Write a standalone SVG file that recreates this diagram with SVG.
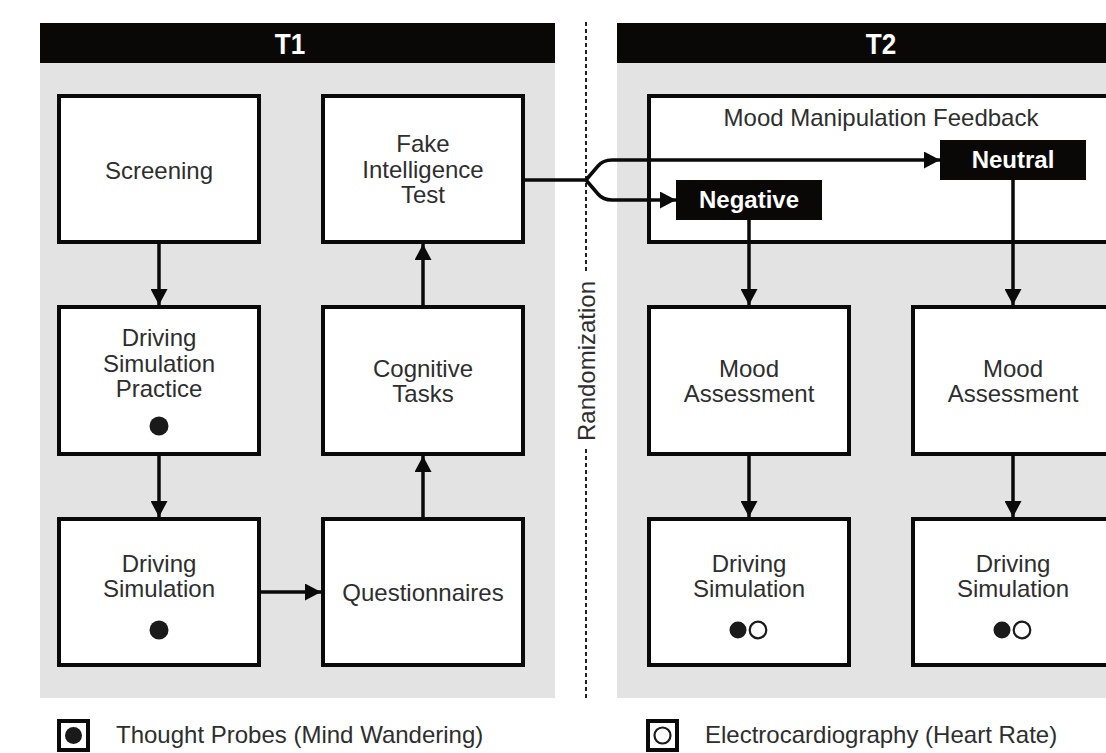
<svg xmlns="http://www.w3.org/2000/svg" width="1106" height="753" viewBox="0 0 1106 753">
  <defs>
    <marker id="ah" markerUnits="userSpaceOnUse" markerWidth="17" markerHeight="17" refX="16" refY="8.5" orient="auto">
      <path d="M0,0 L16,8.5 L0,17 z" fill="#0a0a0a"/>
    </marker>
    <style>
      .panel { fill: #e3e3e3; }
      .hdr { fill: #0a0806; }
      .hdrtxt { font-family: "Liberation Sans", Arial, Helvetica, sans-serif; font-weight: bold; font-size: 29px; fill: #ffffff; text-anchor: middle; }
      .box { fill: #ffffff; stroke: #0a0a0a; stroke-width: 4; }
      .lbl { font-family: "Liberation Sans", Arial, Helvetica, sans-serif; font-size: 24px; fill: #2e2e2e; text-anchor: middle; }
      .tag { fill: #0a0806; }
      .tagtxt { font-family: "Liberation Sans", Arial, Helvetica, sans-serif; font-weight: bold; font-size: 24px; fill: #ffffff; text-anchor: middle; }
      .conn { fill: none; stroke: #0a0a0a; stroke-width: 3.5; }
      .dash { fill: none; stroke: #222; stroke-width: 2; stroke-dasharray: 4 3; }
      .dotf { fill: #1a1a1a; }
      .doto { fill: #ffffff; stroke: #1a1a1a; stroke-width: 2.2; }
      .leg { font-family: "Liberation Sans", Arial, Helvetica, sans-serif; font-size: 24px; fill: #2e2e2e; }
    </style>
  </defs>

  <!-- panels -->
  <g id="panel-t1">
    <rect class="panel" x="40" y="63" width="515" height="635"/>
    <rect class="hdr" x="40" y="23" width="515" height="40"/>
    <text class="hdrtxt" transform="translate(290,54) scale(0.9,1)">T1</text>
  </g>
  <g id="panel-t2">
    <rect class="panel" x="617" y="63" width="489" height="635"/>
    <rect class="hdr" x="617" y="23" width="489" height="40"/>
    <text class="hdrtxt" transform="translate(881,54) scale(0.9,1)">T2</text>
  </g>

  <!-- randomization divider -->
  <g id="randomization">
    <line class="dash" x1="586" y1="22" x2="586" y2="274"/>
    <line class="dash" x1="586" y1="449" x2="586" y2="700"/>
    <text class="lbl" transform="translate(595,361) rotate(-90)">Randomization</text>
  </g>

  <!-- T1 nodes -->
  <g id="screening">
    <rect class="box" x="59" y="96" width="200" height="146"/>
    <text class="lbl" x="159" y="179">Screening</text>
  </g>
  <g id="fake-intelligence-test">
    <rect class="box" x="323" y="96" width="200" height="146"/>
    <text class="lbl" x="423" y="152">Fake</text>
    <text class="lbl" x="423" y="178">Intelligence</text>
    <text class="lbl" x="423" y="203">Test</text>
  </g>
  <g id="driving-simulation-practice">
    <rect class="box" x="59" y="307" width="200" height="147"/>
    <text class="lbl" x="159" y="346">Driving</text>
    <text class="lbl" x="159" y="372">Simulation</text>
    <text class="lbl" x="159" y="397">Practice</text>
    <circle class="dotf" cx="159" cy="426" r="9.5"/>
  </g>
  <g id="cognitive-tasks">
    <rect class="box" x="323" y="307" width="200" height="147"/>
    <text class="lbl" x="423" y="377">Cognitive</text>
    <text class="lbl" x="423" y="402">Tasks</text>
  </g>
  <g id="driving-simulation-t1">
    <rect class="box" x="59" y="519" width="200" height="146"/>
    <text class="lbl" x="159" y="572">Driving</text>
    <text class="lbl" x="159" y="597">Simulation</text>
    <circle class="dotf" cx="159" cy="630" r="9.5"/>
  </g>
  <g id="questionnaires">
    <rect class="box" x="323" y="519" width="200" height="146"/>
    <text class="lbl" x="423" y="601">Questionnaires</text>
  </g>

  <!-- T2 nodes -->
  <g id="mood-manipulation-feedback">
    <rect class="box" x="649" y="96" width="500" height="146"/>
    <text class="lbl" x="881" y="126">Mood Manipulation Feedback</text>
  </g>
  <g id="negative">
    <rect class="tag" x="676" y="180" width="146" height="40"/>
    <text class="tagtxt" x="749" y="208">Negative</text>
  </g>
  <g id="neutral">
    <rect class="tag" x="940" y="140" width="146" height="40"/>
    <text class="tagtxt" x="1013" y="168">Neutral</text>
  </g>
  <g id="mood-assessment-negative">
    <rect class="box" x="649" y="307" width="200" height="147"/>
    <text class="lbl" x="749" y="377">Mood</text>
    <text class="lbl" x="749" y="402">Assessment</text>
  </g>
  <g id="mood-assessment-neutral">
    <rect class="box" x="913" y="307" width="200" height="147"/>
    <text class="lbl" x="1013" y="377">Mood</text>
    <text class="lbl" x="1013" y="402">Assessment</text>
  </g>
  <g id="driving-simulation-negative">
    <rect class="box" x="649" y="519" width="200" height="146"/>
    <text class="lbl" x="749" y="572">Driving</text>
    <text class="lbl" x="749" y="597">Simulation</text>
    <circle class="dotf" cx="738" cy="630" r="8.5"/>
    <circle class="doto" cx="758" cy="630" r="8.3"/>
  </g>
  <g id="driving-simulation-neutral">
    <rect class="box" x="913" y="519" width="200" height="146"/>
    <text class="lbl" x="1013" y="572">Driving</text>
    <text class="lbl" x="1013" y="597">Simulation</text>
    <circle class="dotf" cx="1002" cy="630" r="8.5"/>
    <circle class="doto" cx="1022" cy="630" r="8.3"/>
  </g>

  <!-- connectors -->
  <g id="connectors">
    <line class="conn" x1="159" y1="244" x2="159" y2="305" marker-end="url(#ah)"/>
    <line class="conn" x1="159" y1="456" x2="159" y2="517" marker-end="url(#ah)"/>
    <line class="conn" x1="261" y1="592" x2="321" y2="592" marker-end="url(#ah)"/>
    <line class="conn" x1="423" y1="517" x2="423" y2="456" marker-end="url(#ah)"/>
    <line class="conn" x1="423" y1="305" x2="423" y2="244" marker-end="url(#ah)"/>
    <path class="conn" d="M525,180 L586,180"/>
    <path class="conn" d="M586,180 L598,166 Q603,160 612,160 L940,160" marker-end="url(#ah)"/>
    <path class="conn" d="M586,180 L598,194 Q603,200 612,200 L676,200" marker-end="url(#ah)"/>
    <line class="conn" x1="749" y1="220" x2="749" y2="305" marker-end="url(#ah)"/>
    <line class="conn" x1="1013" y1="180" x2="1013" y2="305" marker-end="url(#ah)"/>
    <line class="conn" x1="749" y1="456" x2="749" y2="517" marker-end="url(#ah)"/>
    <line class="conn" x1="1013" y1="456" x2="1013" y2="517" marker-end="url(#ah)"/>
  </g>

  <!-- legend -->
  <g id="legend-thought-probes">
    <rect class="box" x="59" y="721" width="29" height="29"/>
    <circle class="dotf" cx="73.5" cy="735.5" r="8.5"/>
    <text class="leg" x="116" y="743">Thought Probes (Mind Wandering)</text>
  </g>
  <g id="legend-ecg">
    <rect class="box" x="648" y="721" width="29" height="29"/>
    <circle class="doto" cx="662.5" cy="735.5" r="8"/>
    <text class="leg" x="705" y="743">Electrocardiography (Heart Rate)</text>
  </g>
</svg>
